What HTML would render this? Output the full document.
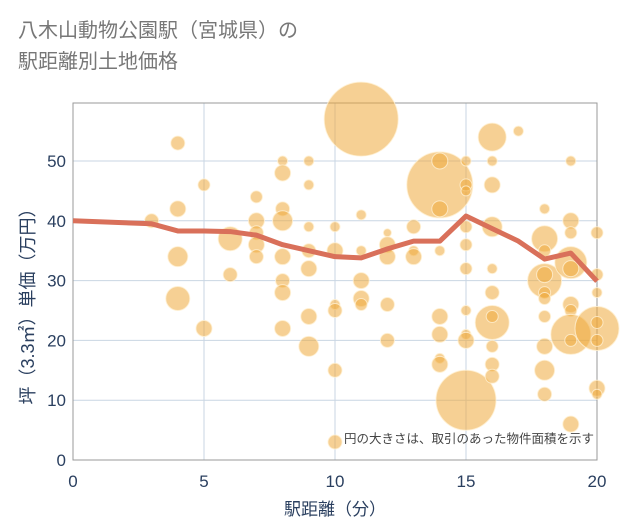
<!DOCTYPE html>
<html><head><meta charset="utf-8"><style>
body{margin:0;background:#fff;font-family:"Liberation Sans","Noto Sans CJK JP",sans-serif;}
#wrap{position:relative;width:621px;height:530px;overflow:hidden;}
#title{position:absolute;left:18px;top:16px;font-size:20px;line-height:31px;color:#777;font-family:"Liberation Sans","Noto Sans CJK JP",sans-serif;}
</style></head><body>
<div id="wrap">
<div id="title">八木山動物公園駅（宮城県）の<br>駅距離別土地価格</div>
<svg id="svg" width="621" height="530" style="position:absolute;left:0;top:0"></svg>
</div>
<script>
const bubbleX=[4,3,4,4,4,5,5,6,6,7,7,7,7,7,8,8,8,8,8,8,8,8,9,9,9,9,9,9,9,10,10,10,10,10,10,11,11,11,11,11,11,12,12,12,12,12,13,13,13,14,14,14,14,14,14,14,14,15,15,15,15,15,15,15,15,15,15,16,16,16,16,16,16,16,16,16,16,16,17,18,18,18,18,18,18,18,18,18,18,18,19,19,19,19,19,19,19,19,19,19,20,20,20,20,20,20,20,20];
const bubbleY=[53,40,42,34,27,46,22,37,31,44,40,38,36,34,50,48,42,40,34,30,28,22,50,46,39,35,32,24,19,39,35,26,25,15,3,57,41,35,30,27,26,38,36,34,26,20,39,35,34,46,50,42,35,24,21,17,16,50,46,45,39,36,32,25,21,20,10,54,50,46,39,32,28,23,24,19,16,14,55,42,37,35,30,31,28,27,24,19,15,11,50,40,38,33,32,26,25,21,20,6,22,38,31,28,23,20,12,11];
const bubbleR=[7,7,8,10,12,6,8,12,7,6,8,7,8,7,5,8,7,10,8,7,8,8,5,5,5,7,8,8,10,5,8,5,7,7,7,37,5,5,8,8,6,4,8,8,7,7,7,5,8,33,8,8,5,8,8,5,8,5,6,5,6,6,6,5,5,8,30,14,5,8,10,5,7,17,6,6,7,7,5,5,13,6,17,8,6,6,6,8,10,7,5,8,6,16,8,8,6,20,6,8,22,6,6,5,6,6,8,5];
const lineX=[0,3,4,5,6,7,8,9,10,11,12,13,14,15,16,17,18,19,20];
const lineY=[40,39.5,38.3,38.3,38.2,37.6,36,35,34,33.8,35.3,36.6,36.6,40.8,38.7,36.6,33.6,34.6,29.9];
const xTicks=[0,5,10,15,20];
const yTicks=[0,10,20,30,40,50];
const L=73,R=597,T=103,B=460,YMAX=59.7;
const sx=v=>L+v/20*(R-L);
const sy=v=>B-v/YMAX*(B-T);
const svg=document.getElementById('svg');const NS='http://www.w3.org/2000/svg';
const TC='#2a3f5f';
function mk(t,a,p){const e=document.createElementNS(NS,t);for(const k in a)e.setAttribute(k,a[k]);(p||svg).appendChild(e);return e;}
const grid=mk('g',{});


xTicks.forEach(v=>{const l=mk('line',{x1:sx(v),x2:sx(v),y1:T,y2:B,stroke:'#c9d6e3','stroke-width':1},grid);


const t=mk('text',{x:sx(v),y:487,'text-anchor':'middle','font-size':17,fill:TC});t.textContent=v;

});
yTicks.forEach(v=>{const l=mk('line',{x1:L,x2:R,y1:sy(v),y2:sy(v),stroke:'#c9d6e3','stroke-width':1},grid);


const t=mk('text',{x:66,y:sy(v)+6,'text-anchor':'end','font-size':17,fill:TC});t.textContent=v;

});
const fr=mk('rect',{x:L,y:T,width:R-L,height:B-T,fill:'none',stroke:'#999','stroke-width':1});


const bg=mk('g',{});


bubbleX.forEach((x,i)=>{const c=mk('circle',{cx:sx(x),cy:sy(bubbleY[i]),r:bubbleR[i],fill:'rgba(238,170,60,0.55)',stroke:'rgba(255,240,210,0.8)','stroke-width':1},bg);

});
const pts=lineX.map((x,i)=>sx(x)+','+sy(lineY[i])).join(' ');
const pl=mk('polyline',{points:pts,fill:'none',stroke:'#d9705a','stroke-width':5,'stroke-linejoin':'round'});


const n=mk('text',{x:594,y:443,'text-anchor':'end','font-size':12.5,fill:'#444','font-family':'"Liberation Sans","Noto Sans CJK JP",sans-serif'});n.textContent='円の大きさは、取引のあった物件面積を示す';


const xt=mk('text',{x:335,y:515,'text-anchor':'middle','font-size':17,fill:TC,'font-family':'"Liberation Sans","Noto Sans CJK JP",sans-serif'});xt.textContent='駅距離（分）';


const yt=mk('text',{x:0,y:0,'text-anchor':'middle','font-size':18,fill:TC,transform:'translate(34,302) rotate(-90)','font-family':'"Liberation Sans","Noto Sans CJK JP",sans-serif'});yt.textContent='坪（3.3㎡）単価（万円）';


</script>
</body></html>
